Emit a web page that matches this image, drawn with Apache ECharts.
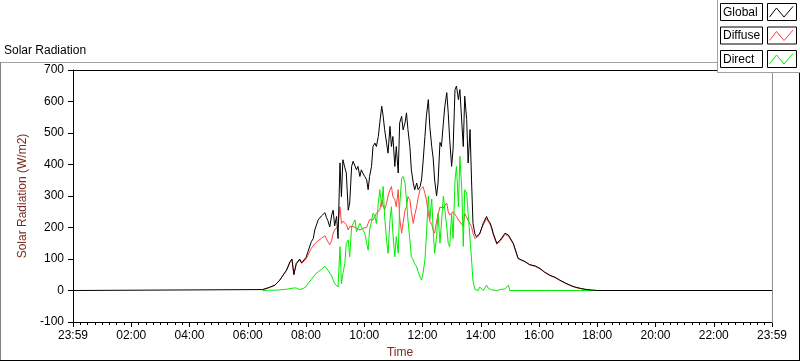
<!DOCTYPE html>
<html>
<head>
<meta charset="utf-8">
<script src="https://cdn.jsdelivr.net/npm/echarts@6/dist/echarts.min.js"></script>
<style>
html,body{margin:0;padding:0;background:#fff;}
#chart{width:800px;height:361px;}
</style>
</head>
<body>
<div id="chart"></div>
<script>
// time of day in minutes (0 = 23:59 of previous day ... 1440 = 23:59)
const times = [
  0,391,405,416,426,433,440,447,451,455,
  460,467,471,474,480,484,491,495,498,505,
  508,512,515,519,522,525,529,533,536,539,
  543,546,550,553,556,560,563,567,570,574,
  577,581,584,587,591,594,598,601,605,608,
  611,615,618,622,625,629,632,636,639,642,
  646,649,653,656,659,663,666,670,673,677,
  680,684,687,690,694,697,701,704,708,711,
  715,718,721,725,728,732,735,739,742,745,
  749,752,756,759,763,766,770,773,776,780,
  783,787,790,794,797,801,804,807,811,814,
  818,821,824,828,831,835,838,845,852,855,
  859,862,866,873,880,890,897,900,907,917,
  921,931,941,952,962,972,983,993,1003,1014,
  1024,1034,1045,1055,1065,1080,1440
];
const globalVals = [
  0,3,10,17,33,49,65,91,100,51,
  86,100,88,86,105,123,155,165,192,224,
  224,237,240,247,232,222,202,240,255,205,
  235,165,405,298,415,390,373,255,278,394,
  410,395,383,394,362,383,370,362,351,320,
  362,394,457,468,457,489,532,585,553,511,
  468,436,521,457,489,394,457,373,532,553,
  510,532,564,511,457,383,341,320,341,320,
  330,351,405,489,553,606,521,457,420,351,
  300,341,470,457,532,585,628,564,480,394,
  450,638,649,606,638,532,457,617,543,405,
  511,351,213,180,171,176,180,213,235,224,
  215,203,180,150,160,182,176,171,150,102,
  100,92,82,78,70,58,48,42,33,24,
  17,11,7,4,2,0,0
];
const diffuseVals = [
  null,3,10,17,33,49,64,90,98,50,
  84,97,86,84,100,112,134,140,148,158,
  160,166,170,174,176,155,145,160,182,192,
  195,205,266,213,220,224,210,192,203,203,
  203,200,198,196,192,192,198,203,200,213,
  225,228,224,230,245,250,256,288,270,256,
  277,300,320,330,298,288,266,320,230,182,
  215,255,266,298,288,250,213,240,266,295,
  320,325,330,309,288,245,220,210,192,182,
  220,240,265,260,262,270,277,250,240,235,
  250,245,235,224,224,210,203,245,240,222,
  222,203,182,165,168,172,176,208,228,220,
  210,198,176,147,156,178,172,170,148,101,
  99,91,81,77,69,57,47,41,32,23,
  16,10,6,3,1,0,null
];
const directVals = [
  null,0,1,1,2,3,4,6,7,8,
  8,3,4,6,12,22,35,43,50,59,
  65,68,74,77,76,65,60,46,33,22,
  17,11,139,22,54,86,150,160,107,203,
  203,224,187,182,213,203,203,182,182,128,
  192,220,245,235,213,277,320,266,330,235,
  160,118,224,266,182,107,171,118,270,355,
  362,341,288,224,160,107,97,85,75,60,
  43,33,54,97,171,300,224,290,192,118,
  171,245,150,150,300,300,200,150,139,245,
  165,351,394,266,426,320,140,320,309,245,
  240,100,30,3,0,0,11,0,17,8,
  6,2,0,0,3,5,17,0,0,0,
  0,0,0,0,0,0,0,0,0,0,
  0,0,0,0,0,0,null
];
const xTickLabels = ['23:59','02:00','04:00','06:00','08:00','10:00','12:00','14:00','16:00','18:00','20:00','22:00','23:59'];
const seriesNames = ['Global','Diffuse','Direct'];
const seriesColors = ['#000000','#ff4040','#00ee00'];

const FONT = 'Liberation Sans';
const toData = arr => times.map((t, i) => [t, arr[i]]);

const chart = echarts.init(document.getElementById('chart'), null, {renderer: 'canvas'});

function legendRow(i, y) {
  return [
    {type:'rect', z:11, shape:{x:720.5, y:y+0.5, width:42, height:17}, style:{fill:'#fff', stroke:'#000', lineWidth:1}},
    {type:'text', z:12, x:723, y:y+9.5, style:{text:seriesNames[i], font:'12px "' + FONT + '"', fill:'#000', textVerticalAlign:'middle'}},
    {type:'rect', z:11, shape:{x:767.5, y:y+0.5, width:29, height:17}, style:{fill:'#fff', stroke:'#000', lineWidth:1}},
    {type:'polyline', z:12, shape:{points:[[769.5,y+14],[776.5,y+5],[784,y+14],[793,y+3.5]]}, style:{stroke:seriesColors[i], lineWidth:1, fill:null}}
  ];
}

const option = {
  animation: false,
  backgroundColor: '#fff',
  textStyle: {fontFamily: FONT},
  grid: {left: 73, top: 70, width: 699, height: 252, containLabel: false},
  xAxis: {
    type: 'value', min: 0, max: 1440, interval: 120,
    axisLine: {show: true, onZero: false, lineStyle: {color: '#000', width: 1}},
    axisTick: {show: true, length: 5, lineStyle: {color: '#000'}},
    minorTick: {show: true, splitNumber: 8, length: 3, lineStyle: {color: '#000'}},
    splitLine: {show: false},
    axisLabel: {
      margin: 8, color: '#000', fontSize: 12, fontFamily: FONT,
      showMinLabel: true, showMaxLabel: true,
      formatter: v => xTickLabels[Math.round(v / 120)] || ''
    }
  },
  yAxis: {
    type: 'value', min: -100, max: 700, interval: 100,
    name: 'Solar Radiation (W/m2)', nameLocation: 'middle', nameGap: 35,
    nameTextStyle: {color: '#7a2a1e', fontSize: 12, fontFamily: FONT},
    axisLine: {show: true, onZero: false, lineStyle: {color: '#000', width: 1}},
    axisTick: {show: true, length: 5, lineStyle: {color: '#000'}},
    splitLine: {show: false},
    axisLabel: {margin: 9, color: '#000', fontSize: 12, fontFamily: FONT}
  },
  series: seriesNames.map((n, i) => ({
    name: n, type: 'line',
    data: toData([globalVals, diffuseVals, directVals][i]),
    showSymbol: false, symbol: 'none',
    z: [4, 2, 3][i],
    lineStyle: {color: seriesColors[i], width: 1},
    itemStyle: {color: seriesColors[i]},
    connectNulls: false
  })),
  graphic: [
    // outer frame
    {type:'line', z:1, shape:{x1:0, y1:62.5, x2:800, y2:62.5}, style:{stroke:'#a0a0a0', lineWidth:1}},
    {type:'line', z:1, shape:{x1:0.5, y1:62, x2:0.5, y2:361}, style:{stroke:'#808080', lineWidth:1}},
    {type:'line', z:1, shape:{x1:0, y1:360.5, x2:800, y2:360.5}, style:{stroke:'#000', lineWidth:1}},
    {type:'line', z:1, shape:{x1:799.5, y1:62, x2:799.5, y2:361}, style:{stroke:'#000', lineWidth:1}},
    // plot frame top and right
    {type:'line', z:1, shape:{x1:73, y1:70.5, x2:773, y2:70.5}, style:{stroke:'#000', lineWidth:1}},
    {type:'line', z:1, shape:{x1:772.5, y1:70, x2:772.5, y2:323}, style:{stroke:'#909090', lineWidth:1}},
    // title
    {type:'text', z:5, x:4, y:51, style:{text:'Solar Radiation', font:'12px "' + FONT + '"', fill:'#000', textVerticalAlign:'middle'}},
    // x axis name
    {type:'text', z:5, x:400, y:353, style:{text:'Time', font:'12px "' + FONT + '"', fill:'#7a2a1e', textAlign:'center', textVerticalAlign:'middle'}},
    // legend panel
    {type:'rect', z:10, shape:{x:717.5, y:-2, width:90, height:74.5}, style:{fill:'#fff', stroke:'#a0a0a0', lineWidth:1}},
    ...legendRow(0, 3),
    ...legendRow(1, 26.5),
    ...legendRow(2, 50)
  ]
};
chart.setOption(option);
</script>
</body>
</html>
